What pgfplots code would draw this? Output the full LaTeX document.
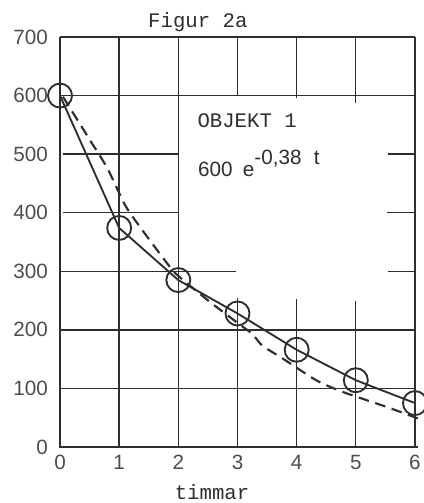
\documentclass[border=0pt]{standalone}
\usepackage{fontspec}
\setmainfont{Liberation Mono}
\setsansfont{Liberation Sans}
\usepackage{pgfplots}
\pgfplotsset{compat=1.18}
\definecolor{ink}{HTML}{2E2E2E}
\begin{document}
\begin{tikzpicture}
\begin{axis}[
  scale only axis,
  width=266.25pt, height=307.5pt,
  xmin=0, xmax=6, ymin=0, ymax=700,
  xtick={0,1,...,6}, ytick={0,100,...,700},
  major tick length=0pt,
  axis line style={draw=none},
  clip=false,
  unbounded coords=jump,
  /pgf/number format/assume math mode=true,
  ticklabel style={font=\sffamily\fontsize{15.5}{18}\selectfont, text=ink!85},
  yticklabel style={xshift=-5.5pt},
  xticklabel style={yshift=-2.5pt},
]
% grid lines (thin)
\addplot[ink, line width=1pt] coordinates {
 (1,0)(1,700) (1,nan)
 (2,0)(2,700) (2,nan)
 (3,0)(3,255) (3,nan) (3,600)(3,700) (3,nan)
 (4,0)(4,252) (4,nan) (4,595)(4,700) (4,nan)
 (5,0)(5,250) (5,nan) (5,588)(5,700) (5,nan)
 (6,0)(6,700) (6,nan)
 (0,700)(6,700) (6,nan)
 (0,600)(6,600) (6,nan)
 (0.05,500)(2,500) (2,nan) (5.55,500)(6,500) (6,nan)
 (0.05,400)(2,400) (2,nan) (5.52,400)(6,400) (6,nan)
 (0,300)(2.97,300) (2.97,nan) (5.55,300)(6,300) (6,nan)
 (0,200)(6,200) (6,nan)
 (0,100)(6,100)
};
% main axes (thicker)
\addplot[ink, line width=1.8pt] coordinates {(0,700)(0,0)(6.05,0)};
% dashed curve 600 e^{-0.38 t}
\addplot[ink, line width=1.6pt, dash pattern=on 8pt off 5pt, smooth, tension=0.4] coordinates {
 (0.05,598)(0.5,525)(0.8,476)(1.1,413)(1.35,376)(1.83,311)(2.0,292)(2.53,248)
 (3.0,212)(3.25,193)(3.42,173)(3.75,152)(4.33,114)(4.78,94)(5.56,67)(6.12,46)
};
% solid curve through measurements
\addplot[ink, line width=1.4pt, mark=o, mark size=9pt,
  mark options={line width=1.4pt, solid}] coordinates {
 (0,600)(1,374)(2,285)(3,228)(4,166)(5,114)(6,75)
};
\node[anchor=base, text=ink, font=\fontsize{15.5}{18}\selectfont] at (axis cs:2.33,700) [yshift=6.75pt] {Figur 2a};
\node[anchor=base, text=ink, font=\fontsize{15.5}{18}\selectfont] at (axis cs:2.57,0) [yshift=-39pt] {timmar};
\node[anchor=base west, inner sep=0pt, text=ink, font=\fontsize{15.5}{18}\selectfont] at (axis cs:2.32,545) {OBJEKT 1};
\node[anchor=base west, inner sep=0pt, text=ink, font=\sffamily\fontsize{15.5}{18}\selectfont] at (axis cs:2.33,461) {600\hspace{0.5em}e\raisebox{9pt}{-0,38\hspace{0.6em}t}};
\end{axis}
\pgfresetboundingbox
\path ([shift={(-45pt,-42pt)}]current axis.south west) rectangle ([shift={(6.75pt,27.75pt)}]current axis.north east);
\end{tikzpicture}
\end{document}
